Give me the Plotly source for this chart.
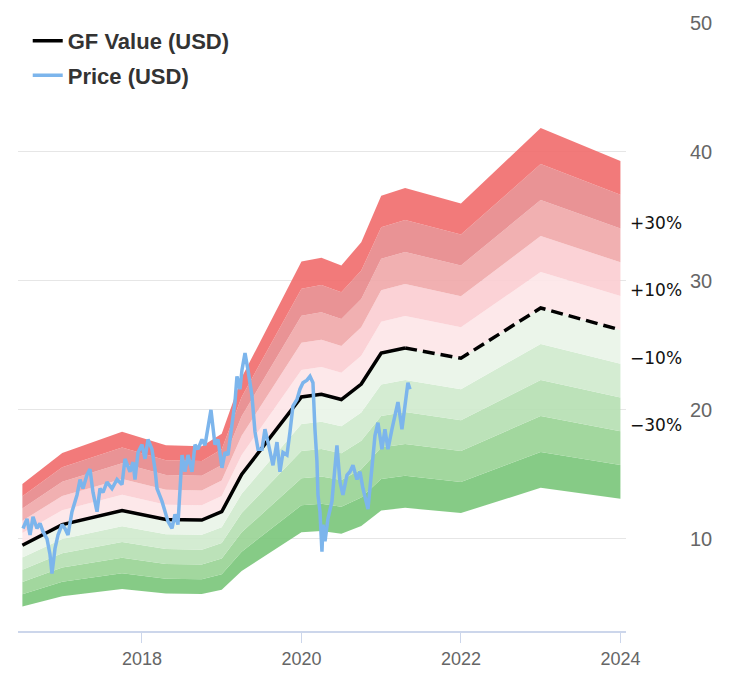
import plotly.graph_objects as go

# ---- data ----
gf_years = [2016.5, 2017.0, 2017.75, 2018.3, 2018.75, 2019.0, 2019.25, 2020.0,
            2020.25, 2020.5, 2020.75, 2021.0, 2021.3, 2022.0, 2023.0, 2024.0]
gf_values = [9.5, 11.1, 12.2, 11.5, 11.45, 12.1, 15.0, 21.0,
             21.2, 20.8, 22.0, 24.4, 24.8, 24.0, 27.9, 26.2]
gf_estimate_start = 2021.3  # dashed (projected) part begins here

price_years = [2016.508, 2016.558, 2016.596, 2016.633, 2016.683, 2016.721, 2016.759, 2016.809,
               2016.846, 2016.871, 2016.909, 2016.947, 2016.997, 2017.034, 2017.072, 2017.122,
               2017.185, 2017.223, 2017.260, 2017.310, 2017.348, 2017.386, 2017.436, 2017.473,
               2017.511, 2017.561, 2017.624, 2017.687, 2017.749, 2017.787, 2017.850, 2017.887,
               2017.912, 2017.950, 2018.000, 2018.038, 2018.075, 2018.125, 2018.163, 2018.188,
               2018.251, 2018.288, 2018.326, 2018.376, 2018.414, 2018.451, 2018.502, 2018.539,
               2018.577, 2018.627, 2018.665, 2018.702, 2018.752, 2018.790, 2018.828, 2018.865,
               2018.915, 2018.953, 2019.003, 2019.041, 2019.078, 2019.129, 2019.166, 2019.191,
               2019.229, 2019.254, 2019.292, 2019.329, 2019.379, 2019.417, 2019.455, 2019.505,
               2019.542, 2019.580, 2019.643, 2019.693, 2019.730, 2019.768, 2019.818, 2019.856,
               2019.893, 2019.944, 2019.981, 2020.019, 2020.069, 2020.107, 2020.144, 2020.169,
               2020.194, 2020.207, 2020.232, 2020.257, 2020.270, 2020.295, 2020.332, 2020.382,
               2020.420, 2020.445, 2020.483, 2020.520, 2020.571, 2020.608, 2020.646, 2020.696,
               2020.734, 2020.771, 2020.834, 2020.884, 2020.922, 2020.959, 2021.009, 2021.047,
               2021.085, 2021.135, 2021.172, 2021.210, 2021.260, 2021.298, 2021.335, 2021.361]
price_values = [10.8, 11.55, 10.3, 11.7, 10.8, 11.2, 10.55, 10.0,
                8.8, 7.3, 9.25, 10.3, 11.1, 10.8, 10.3, 12.1,
                13.4, 14.6, 13.9, 14.95, 15.4, 13.6, 12.1, 13.9,
                13.6, 14.4, 13.9, 14.6, 14.2, 16.2, 15.2, 15.95,
                14.6, 16.7, 17.3, 16.2, 17.7, 16.95, 15.4, 13.9,
                12.9, 12.1, 11.35, 10.8, 11.9, 11.1, 16.5, 15.2,
                16.5, 15.2, 17.3, 16.95, 17.7, 17.25, 18.5, 20.0,
                17.3, 17.7, 15.5, 16.7, 16.5, 19.0, 20.6, 22.6,
                21.6, 23.1, 24.4, 23.1, 21.1, 18.3, 16.95, 16.95,
                18.5, 17.5, 15.7, 17.5, 15.2, 16.7, 16.5, 18.3,
                20.3, 20.8, 21.6, 22.1, 22.3, 22.6, 22.1, 18.5,
                16.0, 13.4, 12.1, 9.0, 11.1, 9.8, 11.55, 12.9,
                15.2, 17.25, 14.4, 13.4, 14.95, 15.2, 15.7, 14.6,
                15.2, 13.9, 12.3, 15.95, 18.0, 19.0, 16.95, 18.5,
                16.95, 18.5, 19.6, 20.6, 18.5, 20.3, 22.1, 21.6]

band_levels = [-50, -40, -30, -20, -10, 0, 10, 20, 30, 40, 50]  # percent off GF Value
band_colors = ["#86cb86", "#a2d79e", "#bce2b9", "#d4ecd2", "#ebf5ea",
               "#fde8ea", "#fbd2d6", "#f1b0b2", "#e99395", "#f27a7a"]
label_levels = [30, 10, -10, -30]
label_texts = ["+30%", "+10%", "\u221210%", "\u221230%"]

x_ticks = [2018, 2020, 2022, 2024]
y_ticks = [10, 20, 30, 40, 50]


def translucent(hex_color, alpha=0.9):
    """rgba that looks like hex_color over white, letting gridlines show faintly."""
    h = hex_color.lstrip("#")
    rgb = [int(h[i:i + 2], 16) for i in (0, 2, 4)]
    comp = [max(0, min(255, round((c - 255 * (1 - alpha)) / alpha))) for c in rgb]
    return "rgba(%d,%d,%d,%.2f)" % (comp[0], comp[1], comp[2], alpha)


fig = go.Figure()

# bands
for i, lvl in enumerate(band_levels):
    ys = [v * (1 + lvl / 100) for v in gf_values]
    fig.add_trace(go.Scatter(
        x=gf_years, y=ys, mode="lines", line=dict(width=0),
        fill=None if i == 0 else "tonexty",
        fillcolor=None if i == 0 else translucent(band_colors[i - 1]),
        showlegend=False, hoverinfo="skip"))

# GF value: solid historic part, dashed projection
solid_x = [x for x in gf_years if x <= gf_estimate_start]
solid_y = [v for x, v in zip(gf_years, gf_values) if x <= gf_estimate_start]
dash_x = [x for x in gf_years if x >= gf_estimate_start]
dash_y = [v for x, v in zip(gf_years, gf_values) if x >= gf_estimate_start]

fig.add_trace(go.Scatter(x=solid_x, y=solid_y, mode="lines",
                         line=dict(color="#000000", width=3.5),
                         name="<b>GF Value (USD)</b>", legendgroup="gf"))
fig.add_trace(go.Scatter(x=dash_x, y=dash_y, mode="lines",
                         line=dict(color="#000000", width=3.5, dash="12px,6px"),
                         showlegend=False, legendgroup="gf"))
fig.add_trace(go.Scatter(x=price_years, y=price_values, mode="lines",
                         line=dict(color="#7cb5ec", width=3.5),
                         name="<b>Price (USD)</b>", legendgroup="price"))

end_gf = gf_values[-1]
for lvl, txt in zip(label_levels, label_texts):
    fig.add_annotation(x=1, xref="paper", xanchor="left", xshift=2,
                       y=end_gf * (1 + lvl / 100), yref="y", yanchor="middle", yshift=6,
                       text=txt, showarrow=False,
                       font=dict(family="DejaVu Sans", size=17, color="#111111"))

fig.update_layout(
    width=735, height=698,
    margin=dict(l=18, r=109, t=18, b=67),
    paper_bgcolor="white", plot_bgcolor="white",
    font=dict(family="Liberation Sans, Arial, sans-serif"),
    showlegend=True,
    legend=dict(x=0.016, y=1.005, xanchor="left", yanchor="top",
                xref="paper", yref="paper",
                bgcolor="rgba(0,0,0,0)", tracegroupgap=3,
                font=dict(family="Liberation Sans, Arial, sans-serif", size=22, color="#333333")),
)
fig.update_xaxes(range=[2016.445, 2024.07], tickvals=x_ticks,
                 ticktext=[str(t) for t in x_ticks],
                 showgrid=False, zeroline=False,
                 showline=True, linecolor="#ccd6eb", linewidth=2,
                 ticks="outside", ticklen=10, tickcolor="#ccd6eb", tickwidth=1,
                 tickfont=dict(size=18, color="#666666"))
fig.update_yaxes(range=[2.85, 50], side="right", tickvals=y_ticks,
                 showgrid=True, gridcolor="#e6e6e6", gridwidth=1,
                 zeroline=False, showline=False, ticks="",
                 ticklabelstandoff=63,
                 tickfont=dict(size=20, color="#666666"))

fig.write_html("out.html")
